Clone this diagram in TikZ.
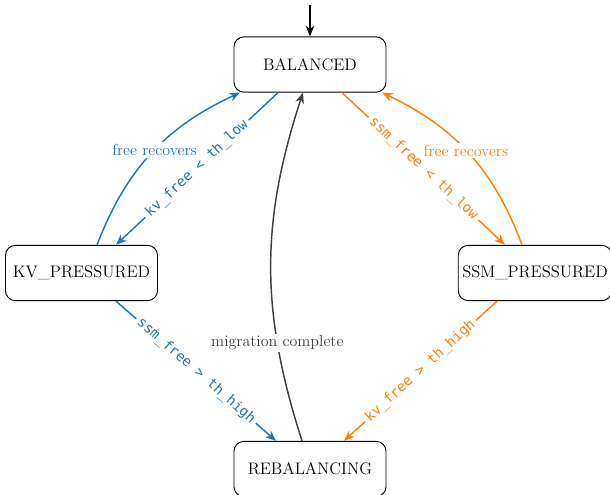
\documentclass[tikz,border=0pt]{standalone}
\usepackage{fontspec}
\newfontfamily\condfont{DejaVu Sans Mono}
\usetikzlibrary{arrows.meta,calc}
\definecolor{KvClr}{rgb}{0.12,0.47,0.71}
\definecolor{SsmClr}{rgb}{1,0.5,0.05}
\definecolor{MigClr}{rgb}{0.25,0.25,0.25}

\begin{document}
\begin{tikzpicture}[x=0.75pt,y=0.75pt,
  state/.style={draw,rounded corners=7.5pt,minimum width=114pt,minimum height=41.5pt,inner xsep=3pt,line width=0.7pt,font=\fontsize{12.5}{15}\selectfont},
  trans/.style={line width=1.1pt,-{Stealth[length=8pt,width=6.5pt,inset=2.5pt]}},
  cond/.style={sloped,fill=white,inner sep=2.5pt,font=\condfont\fontsize{10.5}{12}\selectfont},
  note/.style={fill=white,inner sep=1.5pt,font=\fontsize{12}{14}\selectfont}]
\useasboundingbox (0,0) rectangle (610,495);

% The four states (pixel grid, y measured upwards).
\node[state] (bal) at (310,430.5) {BALANCED};
\node[state] (kv) at (81.5,222) {KV\_PRESSURED};
\node[state] (ssm) at (535,222) {SSM\_PRESSURED};
\node[state] (reb) at (310,26) {REBALANCING};

% Initial arrow into the start state.
\coordinate (init) at (310,490);
\draw[trans,black] (init) -- (bal.north);

% Pressure on the KV side.
\draw[trans,KvClr] ($(bal.south)+(-32,0)$) -- node[cond]{kv\_free < th\_low} ($(kv.north)+(34.5,0)$);
\draw[trans,KvClr] ($(kv.north)+(15.5,0)$) to[bend left=22] node[note,pos=0.52]{free recovers} ($(bal.south)+(-70,0)$);

% Pressure on the SSM side.
\draw[trans,SsmClr] ($(bal.south)+(32,0)$) -- node[cond]{ssm\_free < th\_low} ($(ssm.north)+(-30,0)$);
\draw[trans,SsmClr] ($(ssm.north)+(-13,0)$) to[bend right=22] node[note,pos=0.52]{free recovers} ($(bal.south)+(72,0)$);

% Going to rebalancing and back.
\draw[trans,KvClr] ($(kv.south)+(34.5,0)$) -- node[cond]{ssm\_free > th\_high} ($(reb.north)+(-34,0)$);
\draw[trans,SsmClr] ($(ssm.south)+(-38,0)$) -- node[cond]{kv\_free > th\_high} ($(reb.north)+(34,0)$);
\draw[trans,MigClr] ($(reb.north)+(-8,0)$) to[bend left=18] node[note,pos=0.27]{migration complete} ($(bal.south)+(-7,0)$);

\end{tikzpicture}
\end{document}
